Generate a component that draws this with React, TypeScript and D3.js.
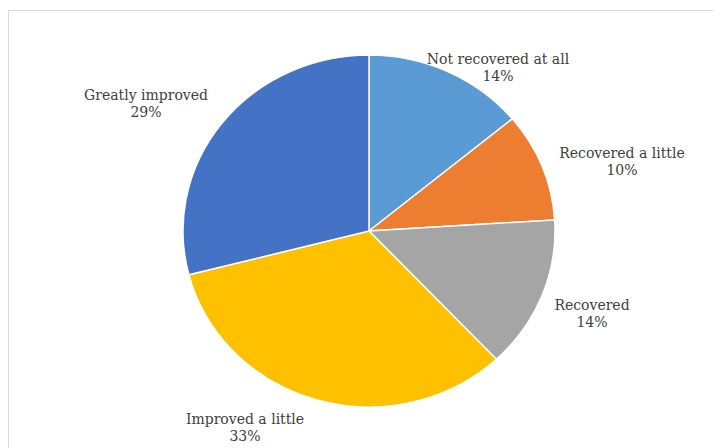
import { useEffect, useRef } from 'react';
import * as d3 from 'd3';

const categories = ['Not recovered at all', 'Recovered a little', 'Recovered', 'Improved a little', 'Greatly improved'];
const values = [14, 10, 14, 33, 29];
const colors = ['#5B9BD5', '#ED7D31', '#A5A5A5', '#FFC000', '#4472C4'];

// label anchors (offset from pie centre), as Excel placed them with "best fit"
const labelOffsets: [number, number][] = [
  [129, -167],
  [253, -73],
  [223, 79],
  [-124, 193],
  [-223, -131],
];

const App = () => {
  const svgRef = useRef<SVGSVGElement>(null);

  useEffect(() => {
    const width = 713;
    const height = 448;
    const cx = 369;
    const cy = 231;
    const rx = 186;
    const ry = 176;

    const svg = d3.select(svgRef.current);
    svg.selectAll('*').remove();
    svg.attr('width', width).attr('height', height);

    svg.append('rect')
      .attr('width', width)
      .attr('height', height)
      .attr('fill', '#fff');

    // chart frame (right and bottom edges fall outside the picture)
    svg.append('rect')
      .attr('x', 8.5)
      .attr('y', 10.5)
      .attr('width', width + 20)
      .attr('height', height + 20)
      .attr('fill', 'none')
      .attr('stroke', '#D9D9D9')
      .attr('stroke-width', 1);

    const data = categories.map((c, i) => ({ name: c, value: values[i], color: colors[i] }));

    const pie = d3.pie<{ name: string; value: number; color: string }>()
      .value(d => d.value)
      .sort(null);

    const arc = d3.arc<d3.PieArcDatum<{ name: string; value: number; color: string }>>()
      .innerRadius(0)
      .outerRadius(ry);

    const g = svg.append('g')
      .attr('transform', `translate(${cx},${cy}) scale(${rx / ry},1)`);

    g.selectAll('path')
      .data(pie(data))
      .enter()
      .append('path')
      .attr('d', arc)
      .attr('fill', d => d.data.color)
      .attr('stroke', '#fff')
      .attr('stroke-width', 1.5)
      .attr('vector-effect', 'non-scaling-stroke');

    const labels = svg.append('g')
      .attr('transform', `translate(${cx},${cy})`)
      .attr('font-family', '"DejaVu Serif", serif')
      .attr('font-size', '14px')
      .attr('fill', '#404040')
      .attr('text-anchor', 'middle');

    data.forEach((d, i) => {
      const [lx, ly] = labelOffsets[i];
      const t = labels.append('text').attr('x', lx).attr('y', ly);
      t.append('tspan').attr('x', lx).attr('dy', 0).text(d.name);
      t.append('tspan').attr('x', lx).attr('dy', 17).text(`${d.value}%`);
    });
  }, []);

  return (
    <svg ref={svgRef} style={{ position: 'absolute', left: 0, top: 0, display: 'block' }}></svg>
  );
};

export default App;
